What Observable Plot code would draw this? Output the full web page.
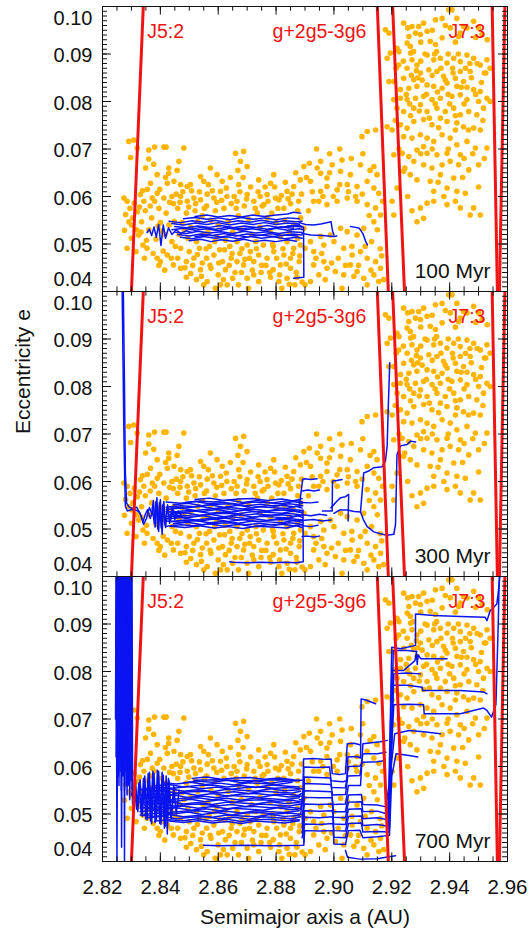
<!DOCTYPE html>
<html>
<head>
<meta charset="utf-8">
<script src="https://cdn.jsdelivr.net/npm/d3@7"></script>
<script src="https://cdn.jsdelivr.net/npm/@observablehq/plot@0.6"></script>
<style>
  html, body { margin: 0; padding: 0; background: #fff; }
</style>
</head>
<body>
<script>
// ---------- DATA ----------
const panels = ["100 Myr", "300 Myr", "700 Myr"];
const xTickLabels = [2.82, 2.84, 2.86, 2.88, 2.90, 2.92, 2.94, 2.96];
const yTickLabels = [0.04, 0.05, 0.06, 0.07, 0.08, 0.09, 0.10];

// family members (a [AU], e), the same in every panel
const familyMain = [
[2.8274,0.0597],[2.8285,0.0590],[2.8280,0.0562],[2.8291,0.0547],[2.8276,0.0529],[2.8285,0.0491],[2.8291,0.0716],[2.8308,0.0719],[2.8297,0.0682],[2.8320,0.0702],[2.8310,0.0586],[2.8331,0.0604],[2.8343,0.0590],[2.8320,0.0568],[2.8335,0.0547],[2.8300,0.0512],[2.8325,0.0519],[2.8340,0.0498],[2.8316,0.0484],[2.8345,0.0470],[2.8300,0.0540],[2.8333,0.0525],
[2.8360,0.0698],[2.8360,0.0679],[2.8377,0.0668],[2.8380,0.0704],[2.8412,0.0704],[2.8420,0.0704],[2.8429,0.0660],[2.8429,0.0649],[2.8349,0.0660],[2.8389,0.0646],[2.8424,0.0628],[2.8355,0.0615],[2.8372,0.0597],[2.8389,0.0607],[2.8412,0.0597],[2.8440,0.0600],[2.8365,0.0580],[2.8395,0.0575],[2.8420,0.0565],[2.8445,0.0585],[2.8370,0.0555],[2.8400,0.0545],[2.8430,0.0540],[2.8360,0.0530],[2.8385,0.0510],[2.8415,0.0520],[2.8440,0.0505],[2.8354,0.0491],[2.8375,0.0480],[2.8389,0.0470],[2.8400,0.0463],[2.8424,0.0477],[2.8445,0.0456],[2.8415,0.0445],[2.8395,0.0455],
[2.8481,0.0702],[2.8464,0.0674],[2.8447,0.0632],[2.8470,0.0625],[2.8493,0.0621],[2.8504,0.0625],[2.8539,0.0642],[2.8550,0.0632],[2.8455,0.0605],[2.8470,0.0600],[2.8493,0.0590],[2.8516,0.0597],[2.8539,0.0593],[2.8460,0.0575],[2.8490,0.0565],[2.8520,0.0570],[2.8545,0.0560],[2.8475,0.0545],[2.8505,0.0535],[2.8530,0.0548],[2.8465,0.0520],[2.8495,0.0512],[2.8525,0.0505],[2.8548,0.0520],[2.8470,0.0491],[2.8500,0.0484],[2.8535,0.0491],[2.8460,0.0470],[2.8490,0.0463],[2.8516,0.0470],[2.8545,0.0460],[2.8470,0.0449],[2.8505,0.0438],[2.8539,0.0446],[2.8525,0.0425],[2.8490,0.0430],[2.8550,0.0414],
[2.8573,0.0660],[2.8596,0.0646],[2.8614,0.0632],[2.8562,0.0605],[2.8585,0.0597],[2.8608,0.0611],[2.8630,0.0600],[2.8560,0.0580],[2.8590,0.0570],[2.8620,0.0575],[2.8645,0.0585],[2.8575,0.0550],[2.8600,0.0540],[2.8635,0.0548],[2.8565,0.0525],[2.8595,0.0515],[2.8625,0.0508],[2.8650,0.0525],[2.8570,0.0495],[2.8605,0.0488],[2.8640,0.0495],[2.8560,0.0470],[2.8585,0.0477],[2.8615,0.0463],[2.8645,0.0470],[2.8575,0.0449],[2.8600,0.0435],[2.8625,0.0446],[2.8650,0.0428],[2.8562,0.0421],[2.8608,0.0414],[2.8631,0.0414],[2.8590,0.0407],
[2.8660,0.0691],[2.8688,0.0695],[2.8677,0.0674],[2.8700,0.0663],[2.8671,0.0625],[2.8700,0.0604],[2.8740,0.0635],[2.8665,0.0590],[2.8690,0.0580],[2.8723,0.0590],[2.8745,0.0600],[2.8670,0.0560],[2.8705,0.0552],[2.8735,0.0565],[2.8680,0.0530],[2.8715,0.0520],[2.8745,0.0535],[2.8665,0.0505],[2.8700,0.0498],[2.8730,0.0505],[2.8675,0.0480],[2.8711,0.0484],[2.8740,0.0477],[2.8665,0.0463],[2.8688,0.0456],[2.8723,0.0463],[2.8750,0.0455],[2.8680,0.0440],[2.8700,0.0428],[2.8723,0.0435],[2.8740,0.0421],[2.8670,0.0414],[2.8705,0.0407],
[2.8769,0.0604],[2.8781,0.0628],[2.8792,0.0646],[2.8758,0.0583],[2.8798,0.0597],[2.8810,0.0593],[2.8838,0.0611],[2.8861,0.0621],[2.8884,0.0635],[2.8827,0.0575],[2.8850,0.0585],[2.8875,0.0570],[2.8770,0.0555],[2.8800,0.0545],[2.8830,0.0550],[2.8860,0.0540],[2.8885,0.0555],[2.8780,0.0525],[2.8815,0.0515],[2.8845,0.0525],[2.8875,0.0512],[2.8790,0.0495],[2.8838,0.0505],[2.8861,0.0491],[2.8884,0.0498],[2.8769,0.0470],[2.8792,0.0484],[2.8827,0.0477],[2.8850,0.0470],[2.8880,0.0463],[2.8790,0.0446],[2.8815,0.0456],[2.8850,0.0449],[2.8870,0.0440],[2.8781,0.0430],[2.8810,0.0421],[2.8838,0.0428],[2.8865,0.0414],[2.8890,0.0420],[2.8820,0.0407],
[2.8896,0.0663],[2.8954,0.0674],[2.8994,0.0667],[2.9028,0.0677],[2.9057,0.0646],[2.9092,0.0667],[2.9115,0.0737],[2.9144,0.0740],[2.9097,0.0726],[2.9138,0.0663],[2.9149,0.0646],[2.8954,0.0649],[2.8976,0.0639],[2.9023,0.0653],[2.9011,0.0614],[2.9046,0.0625],[2.9080,0.0621],[2.9115,0.0632],[2.9138,0.0618],[2.9155,0.0607],[2.8954,0.0611],[2.8976,0.0621],[2.8919,0.0632],[2.8930,0.0590],[2.8948,0.0590],[2.8976,0.0583],[2.9011,0.0590],[2.9046,0.0597],[2.9080,0.0590],[2.9115,0.0583],[2.9144,0.0576],[2.9161,0.0561],[2.9138,0.0547],[2.9103,0.0533],[2.9080,0.0519],[2.9046,0.0526],[2.9023,0.0533],[2.8988,0.0519],[2.8954,0.0516],[2.8919,0.0505],[2.8896,0.0533],[2.8900,0.0491],[2.8930,0.0484],[2.8965,0.0498],[2.9000,0.0505],[2.9034,0.0491],[2.9063,0.0477],[2.9092,0.0484],[2.9115,0.0470],[2.9144,0.0463],[2.9161,0.0449],[2.9138,0.0435],[2.9103,0.0428],[2.9069,0.0432],[2.9034,0.0435],[2.9005,0.0442],[2.8976,0.0449],[2.8948,0.0435],[2.8919,0.0421],[2.8900,0.0414],[2.9057,0.0456],[2.9080,0.0442],[2.9115,0.0414],[2.9155,0.0421],[2.9172,0.0425],[2.9028,0.0407],[2.8965,0.0463],[2.8930,0.0456],[2.9130,0.0505],[2.9160,0.0490],
[2.8295,0.0575],[2.8305,0.0555],[2.8318,0.0530],[2.8328,0.0578],[2.8338,0.0612],[2.8348,0.0570],[2.8352,0.0508],[2.8366,0.0628],[2.8380,0.0590],[2.8392,0.0538],[2.8398,0.0615],[2.8405,0.0528],[2.8410,0.0485],[2.8418,0.0640],[2.8432,0.0588],[2.8438,0.0470],[2.8448,0.0548],[2.8452,0.0495],[2.8458,0.0655],[2.8468,0.0588],[2.8478,0.0610],[2.8482,0.0530],[2.8485,0.0450],[2.8498,0.0578],[2.8508,0.0612],[2.8512,0.0455],[2.8522,0.0585],[2.8528,0.0478],[2.8535,0.0610],[2.8542,0.0432],[2.8552,0.0575],[2.8558,0.0490],[2.8566,0.0625],[2.8572,0.0455],[2.8580,0.0612],[2.8588,0.0505],[2.8595,0.0588],[2.8602,0.0460],[2.8612,0.0592],[2.8618,0.0425],[2.8622,0.0488],[2.8628,0.0618],[2.8638,0.0455],[2.8642,0.0640],[2.8648,0.0480],[2.8655,0.0600],[2.8658,0.0440],[2.8662,0.0575],[2.8668,0.0655],[2.8675,0.0610],[2.8682,0.0490],[2.8686,0.0640],[2.8692,0.0468],[2.8698,0.0595],[2.8708,0.0470],[2.8712,0.0620],[2.8718,0.0445],[2.8728,0.0575],[2.8732,0.0490],[2.8738,0.0610],[2.8748,0.0440],[2.8752,0.0580],[2.8756,0.0498],[2.8762,0.0620],[2.8765,0.0455],[2.8772,0.0590],[2.8778,0.0440],[2.8785,0.0565],[2.8788,0.0500],[2.8795,0.0620],[2.8802,0.0470],[2.8806,0.0575],[2.8812,0.0435],[2.8818,0.0602],[2.8824,0.0490],[2.8832,0.0630],[2.8835,0.0458],[2.8842,0.0595],[2.8846,0.0415],[2.8855,0.0605],[2.8858,0.0480],[2.8868,0.0650],[2.8872,0.0430],[2.8878,0.0590],[2.8882,0.0475],[2.8888,0.0605],[2.8905,0.0640],[2.8912,0.0570],[2.8925,0.0610],[2.8938,0.0470],[2.8942,0.0660],[2.8958,0.0480],[2.8962,0.0600],[2.8970,0.0425],[2.8985,0.0650],[2.8992,0.0460],[2.8998,0.0600],[2.9015,0.0470],[2.9020,0.0625],[2.9040,0.0455],[2.9050,0.0610],[2.9062,0.0495],[2.9075,0.0600],[2.9085,0.0455],[2.9098,0.0605],[2.9108,0.0495],[2.9122,0.0560],[2.9128,0.0445],[2.9150,0.0530],[2.9165,0.0475],[2.9168,0.0590],[2.9125,0.0655],[2.9100,0.0690],[2.9060,0.0680],[2.9020,0.0700],[2.8985,0.0690],[2.8940,0.0700],[2.8915,0.0670]
];
const familyOuter = [
[2.9178,0.0951],[2.9190,0.0944],[2.9241,0.0965],[2.9270,0.0958],[2.9282,0.0944],[2.9293,0.0958],[2.9310,0.0965],[2.9299,0.0941],[2.9253,0.0923],[2.9259,0.0937],[2.9322,0.0948],[2.9351,0.0972],[2.9374,0.0975],[2.9397,0.0993],[2.9408,0.0993],[2.9425,0.0975],[2.9402,0.0955],[2.9437,0.0944],[2.9448,0.0958],[2.9483,0.0969],[2.9500,0.0955],[2.9512,0.0941],[2.9431,0.0937],[2.9374,0.0934],[2.9351,0.0920],[2.9333,0.0927],[2.9264,0.0916],[2.9218,0.0912],
[2.9184,0.0891],[2.9195,0.0902],[2.9224,0.0877],[2.9253,0.0870],[2.9270,0.0888],[2.9287,0.0877],[2.9322,0.0898],[2.9345,0.0888],[2.9368,0.0891],[2.9391,0.0881],[2.9414,0.0891],[2.9437,0.0884],[2.9460,0.0898],[2.9483,0.0891],[2.9506,0.0877],[2.9529,0.0888],[2.9540,0.0870],[2.9471,0.0863],[2.9437,0.0863],[2.9420,0.0849],[2.9379,0.0853],[2.9356,0.0863],[2.9328,0.0867],[2.9299,0.0860],[2.9276,0.0846],[2.9241,0.0849],[2.9207,0.0842],[2.9190,0.0842],
[2.9230,0.0825],[2.9259,0.0828],[2.9287,0.0832],[2.9322,0.0835],[2.9345,0.0832],[2.9374,0.0828],[2.9391,0.0839],[2.9425,0.0832],[2.9448,0.0842],[2.9483,0.0825],[2.9506,0.0821],[2.9529,0.0807],[2.9540,0.0800],[2.9500,0.0800],[2.9460,0.0804],[2.9437,0.0814],[2.9408,0.0811],[2.9368,0.0807],[2.9339,0.0804],[2.9310,0.0811],[2.9282,0.0807],[2.9253,0.0804],[2.9230,0.0807],[2.9207,0.0804],
[2.9218,0.0786],[2.9241,0.0779],[2.9276,0.0786],[2.9299,0.0793],[2.9322,0.0779],[2.9356,0.0786],[2.9385,0.0779],[2.9414,0.0786],[2.9437,0.0772],[2.9466,0.0779],[2.9494,0.0772],[2.9517,0.0786],[2.9506,0.0740],[2.9483,0.0744],[2.9448,0.0747],[2.9425,0.0755],[2.9391,0.0758],[2.9368,0.0765],[2.9339,0.0751],[2.9310,0.0762],[2.9276,0.0758],[2.9253,0.0744],[2.9230,0.0751],[2.9201,0.0740],[2.9184,0.0747],
[2.9241,0.0726],[2.9270,0.0723],[2.9299,0.0730],[2.9322,0.0723],[2.9345,0.0716],[2.9374,0.0730],[2.9402,0.0723],[2.9425,0.0709],[2.9460,0.0716],[2.9489,0.0702],[2.9529,0.0702],[2.9437,0.0688],[2.9391,0.0691],[2.9356,0.0688],[2.9322,0.0691],[2.9287,0.0698],[2.9259,0.0684],[2.9236,0.0691],[2.9207,0.0688],
[2.9276,0.0674],[2.9310,0.0667],[2.9339,0.0660],[2.9374,0.0667],[2.9402,0.0674],[2.9431,0.0667],[2.9466,0.0656],[2.9500,0.0667],[2.9368,0.0646],[2.9414,0.0639],[2.9333,0.0632],[2.9287,0.0635],[2.9264,0.0646],[2.9241,0.0653],[2.9345,0.0611],[2.9391,0.0618],[2.9425,0.0611],[2.9454,0.0607],[2.9483,0.0576],[2.9506,0.0561],[2.9471,0.0561],[2.9437,0.0576],[2.9391,0.0583],[2.9345,0.0590],[2.9322,0.0586],[2.9299,0.0576],[2.9287,0.0547],[2.9310,0.0554],[2.9218,0.0618],[2.9201,0.0590],[2.9207,0.0561],
[2.9265,0.0902],[2.9300,0.0885],[2.9355,0.0905],[2.9410,0.0870],[2.9470,0.0880],[2.9520,0.0860],[2.9290,0.0850],[2.9395,0.0815],[2.9460,0.0830],[2.9350,0.0795],[2.9265,0.0770],[2.9420,0.0740],[2.9310,0.0705],[2.9480,0.0690],[2.9380,0.0600],
[2.9215,0.0870],[2.9225,0.0905],[2.9240,0.0885],[2.9250,0.0815],[2.9262,0.0795],[2.9268,0.0855],[2.9275,0.0905],[2.9285,0.0865],[2.9295,0.0780],[2.9305,0.0845],[2.9315,0.0900],[2.9320,0.0815],[2.9330,0.0765],[2.9340,0.0855],[2.9348,0.0900],[2.9358,0.0820],[2.9362,0.0745],[2.9370,0.0870],[2.9385,0.0845],[2.9395,0.0900],[2.9400,0.0795],[2.9412,0.0860],[2.9420,0.0770],[2.9430,0.0900],[2.9440,0.0830],[2.9450,0.0795],[2.9455,0.0870],[2.9465,0.0740],[2.9475,0.0850],[2.9490,0.0815],[2.9495,0.0880],[2.9510,0.0840],[2.9515,0.0760],[2.9525,0.0860],[2.9530,0.0930],[2.9490,0.0935],[2.9460,0.0955],[2.9420,0.0925],[2.9385,0.0960],[2.9340,0.0950],[2.9300,0.0925],[2.9255,0.0955],[2.9212,0.0760],[2.9225,0.0700],[2.9245,0.0660],[2.9300,0.0690],[2.9340,0.0700],[2.9395,0.0700],[2.9450,0.0680],[2.9500,0.0620],[2.9445,0.0640],[2.9360,0.0630],[2.9255,0.0600],[2.9270,0.0570],[2.9420,0.0590],[2.9520,0.0680]
];

// resonance borders: a at e = 0.04 and a at e = 0.10
const borderAatLowE  = [2.8300, 2.9188, 2.9244, 2.9565, 2.9572];
const borderAatHighE = [2.8341, 2.9150, 2.9203, 2.9547, 2.9591];
const resonanceNames = ["J5:2", "g+2g5-3g6", "J7:3"];
const resonanceLabelA = [2.8418, 2.8950, 2.9460];

// blue orbital tracks (a, e) per panel
const tracks100 = [
[[2.8354,0.0524],[2.8362,0.0531],[2.8370,0.0518],[2.8378,0.0536],[2.8386,0.0514],[2.8394,0.0541],[2.8402,0.0497],[2.8410,0.0540],[2.8418,0.0512],[2.8428,0.0534],[2.8440,0.0520],[2.8455,0.0530],[2.8470,0.0522],[2.8490,0.0528],[2.8510,0.0524]],
[[2.8500,0.0507],[2.8540,0.0510],[2.8575,0.0505],[2.8610,0.0509],[2.8650,0.0506],[2.8690,0.0510],[2.8725,0.0505],[2.8760,0.0508],[2.8800,0.0505],[2.8840,0.0509],[2.8870,0.0506]],
[[2.8470,0.0514],[2.8510,0.0511],[2.8550,0.0516],[2.8590,0.0512],[2.8630,0.0515],[2.8670,0.0511],[2.8710,0.0516],[2.8750,0.0512],[2.8790,0.0515],[2.8830,0.0511],[2.8870,0.0514],[2.8890,0.0512]],
[[2.8460,0.0520],[2.8500,0.0517],[2.8540,0.0521],[2.8580,0.0518],[2.8620,0.0522],[2.8660,0.0517],[2.8700,0.0521],[2.8740,0.0518],[2.8780,0.0522],[2.8820,0.0518],[2.8860,0.0521],[2.8890,0.0519]],
[[2.8450,0.0525],[2.8490,0.0522],[2.8530,0.0527],[2.8570,0.0523],[2.8610,0.0526],[2.8650,0.0522],[2.8690,0.0527],[2.8730,0.0523],[2.8770,0.0526],[2.8810,0.0522],[2.8850,0.0526],[2.8890,0.0524]],
[[2.8440,0.0530],[2.8480,0.0533],[2.8520,0.0529],[2.8560,0.0532],[2.8600,0.0528],[2.8640,0.0533],[2.8680,0.0529],[2.8720,0.0532],[2.8760,0.0528],[2.8800,0.0533],[2.8840,0.0529],[2.8880,0.0532],[2.8895,0.0530]],
[[2.8450,0.0537],[2.8490,0.0534],[2.8530,0.0538],[2.8570,0.0535],[2.8610,0.0539],[2.8650,0.0534],[2.8690,0.0538],[2.8730,0.0535],[2.8770,0.0539],[2.8810,0.0535],[2.8850,0.0538],[2.8890,0.0536]],
[[2.8440,0.0543],[2.8480,0.0540],[2.8520,0.0544],[2.8560,0.0541],[2.8600,0.0545],[2.8640,0.0540],[2.8680,0.0544],[2.8720,0.0541],[2.8760,0.0545],[2.8800,0.0541],[2.8840,0.0544],[2.8880,0.0542]],
[[2.8430,0.0548],[2.8470,0.0545],[2.8510,0.0549],[2.8550,0.0546],[2.8590,0.0550],[2.8630,0.0545],[2.8670,0.0549],[2.8710,0.0546],[2.8750,0.0550],[2.8790,0.0546],[2.8830,0.0549],[2.8870,0.0547],[2.8890,0.0548]],
[[2.8480,0.0553],[2.8520,0.0556],[2.8560,0.0552],[2.8600,0.0555],[2.8640,0.0551],[2.8680,0.0556],[2.8720,0.0552],[2.8760,0.0555],[2.8800,0.0551],[2.8840,0.0555],[2.8880,0.0553]],
[[2.8520,0.0558],[2.8560,0.0561],[2.8600,0.0557],[2.8640,0.0560],[2.8680,0.0557],[2.8720,0.0561],[2.8760,0.0558],[2.8800,0.0561],[2.8840,0.0563],[2.8860,0.0567],[2.8885,0.0565]],
[[2.8500,0.0531],[2.8545,0.0535],[2.8590,0.0531],[2.8635,0.0536],[2.8680,0.0532],[2.8725,0.0535],[2.8770,0.0531],[2.8815,0.0536],[2.8860,0.0533]],
[[2.8520,0.0516],[2.8565,0.0519],[2.8610,0.0515],[2.8655,0.0519],[2.8700,0.0515],[2.8745,0.0519],[2.8790,0.0516],[2.8835,0.0519],[2.8875,0.0517]],
[[2.8840,0.0538],[2.8880,0.0540],[2.8895,0.0535],[2.8896,0.0430],[2.8861,0.0428]],
[[2.8880,0.0545],[2.8902,0.0541],[2.8930,0.0540],[2.8955,0.0542],[2.8990,0.0547],[2.8995,0.0528],[2.9000,0.0519]],
[[2.8890,0.0522],[2.8920,0.0519],[2.8960,0.0518],[2.9000,0.0516],[2.9010,0.0517]],
[[2.9057,0.0537],[2.9075,0.0535],[2.9088,0.0533],[2.9100,0.0522],[2.9110,0.0505],[2.9116,0.0498]]
];
const tracks300 = [
[[2.8268,0.1000],[2.8271,0.0850],[2.8274,0.0700],[2.8277,0.0600],[2.8279,0.0548],[2.8286,0.0538],[2.8300,0.0541],[2.8315,0.0540],[2.8326,0.0536],[2.8334,0.0527],[2.8340,0.0515],[2.8348,0.0531],[2.8356,0.0541],[2.8365,0.0522],[2.8375,0.0540]],
[[2.8272,0.1000],[2.8276,0.0800],[2.8279,0.0620],[2.8283,0.0555],[2.8292,0.0546],[2.8305,0.0543],[2.8318,0.0546],[2.8330,0.0533],[2.8342,0.0510],[2.8352,0.0522],[2.8362,0.0545],[2.8372,0.0530]],
[[2.8370,0.0530],[2.8376,0.0560],[2.8382,0.0504],[2.8388,0.0566],[2.8394,0.0495],[2.8400,0.0562],[2.8406,0.0489],[2.8412,0.0558],[2.8418,0.0503],[2.8425,0.0551],[2.8432,0.0512],[2.8440,0.0545],[2.8450,0.0520],[2.8462,0.0538],[2.8475,0.0525]],
[[2.8372,0.0545],[2.8379,0.0512],[2.8385,0.0558],[2.8391,0.0500],[2.8397,0.0556],[2.8403,0.0502],[2.8409,0.0552],[2.8416,0.0508],[2.8424,0.0545],[2.8434,0.0517],[2.8445,0.0540],[2.8458,0.0524]],
[[2.8435,0.0506],[2.8485,0.0503],[2.8535,0.0507],[2.8585,0.0502],[2.8635,0.0505],[2.8685,0.0501],[2.8735,0.0506],[2.8785,0.0504],[2.8835,0.0502],[2.8870,0.0507],[2.8890,0.0503]],
[[2.8420,0.0506],[2.8470,0.0509],[2.8520,0.0507],[2.8570,0.0511],[2.8620,0.0506],[2.8670,0.0510],[2.8720,0.0505],[2.8770,0.0509],[2.8820,0.0510],[2.8860,0.0507],[2.8890,0.0509]],
[[2.8445,0.0511],[2.8495,0.0514],[2.8545,0.0509],[2.8595,0.0512],[2.8645,0.0513],[2.8695,0.0509],[2.8745,0.0512],[2.8795,0.0508],[2.8845,0.0513],[2.8875,0.0511],[2.8892,0.0509]],
[[2.8420,0.0517],[2.8470,0.0514],[2.8520,0.0518],[2.8570,0.0513],[2.8620,0.0516],[2.8670,0.0512],[2.8720,0.0517],[2.8770,0.0515],[2.8820,0.0513],[2.8860,0.0518],[2.8890,0.0514]],
[[2.8435,0.0516],[2.8485,0.0519],[2.8535,0.0517],[2.8585,0.0521],[2.8635,0.0516],[2.8685,0.0520],[2.8735,0.0515],[2.8785,0.0519],[2.8835,0.0520],[2.8870,0.0517],[2.8890,0.0519]],
[[2.8420,0.0521],[2.8470,0.0524],[2.8520,0.0519],[2.8570,0.0522],[2.8620,0.0523],[2.8670,0.0519],[2.8720,0.0522],[2.8770,0.0518],[2.8820,0.0523],[2.8860,0.0521],[2.8890,0.0519]],
[[2.8445,0.0527],[2.8495,0.0524],[2.8545,0.0528],[2.8595,0.0523],[2.8645,0.0526],[2.8695,0.0522],[2.8745,0.0527],[2.8795,0.0525],[2.8845,0.0523],[2.8875,0.0528],[2.8892,0.0524]],
[[2.8420,0.0526],[2.8470,0.0529],[2.8520,0.0527],[2.8570,0.0531],[2.8620,0.0526],[2.8670,0.0530],[2.8720,0.0525],[2.8770,0.0529],[2.8820,0.0530],[2.8860,0.0527],[2.8890,0.0529]],
[[2.8435,0.0531],[2.8485,0.0534],[2.8535,0.0529],[2.8585,0.0532],[2.8635,0.0533],[2.8685,0.0529],[2.8735,0.0532],[2.8785,0.0528],[2.8835,0.0533],[2.8870,0.0531],[2.8890,0.0529]],
[[2.8420,0.0537],[2.8470,0.0534],[2.8520,0.0538],[2.8570,0.0533],[2.8620,0.0536],[2.8670,0.0532],[2.8720,0.0537],[2.8770,0.0535],[2.8820,0.0533],[2.8860,0.0538],[2.8890,0.0534]],
[[2.8445,0.0536],[2.8495,0.0539],[2.8545,0.0537],[2.8595,0.0541],[2.8645,0.0536],[2.8695,0.0540],[2.8745,0.0535],[2.8795,0.0539],[2.8845,0.0540],[2.8875,0.0537],[2.8892,0.0539]],
[[2.8420,0.0541],[2.8470,0.0544],[2.8520,0.0539],[2.8570,0.0542],[2.8620,0.0543],[2.8670,0.0539],[2.8720,0.0542],[2.8770,0.0538],[2.8820,0.0543],[2.8860,0.0541],[2.8890,0.0539]],
[[2.8435,0.0547],[2.8485,0.0544],[2.8535,0.0548],[2.8585,0.0543],[2.8635,0.0546],[2.8685,0.0542],[2.8735,0.0547],[2.8785,0.0545],[2.8835,0.0543],[2.8870,0.0548],[2.8890,0.0544]],
[[2.8420,0.0546],[2.8470,0.0549],[2.8520,0.0547],[2.8570,0.0551],[2.8620,0.0546],[2.8670,0.0550],[2.8720,0.0545],[2.8770,0.0549],[2.8820,0.0550],[2.8860,0.0547],[2.8890,0.0549]],
[[2.8445,0.0551],[2.8495,0.0554],[2.8545,0.0549],[2.8595,0.0552],[2.8645,0.0553],[2.8695,0.0549],[2.8745,0.0552],[2.8795,0.0548],[2.8845,0.0553],[2.8875,0.0551],[2.8892,0.0549]],
[[2.8420,0.0557],[2.8470,0.0554],[2.8520,0.0558],[2.8570,0.0553],[2.8620,0.0556],[2.8670,0.0552],[2.8720,0.0557],[2.8770,0.0555],[2.8820,0.0553],[2.8860,0.0558],[2.8890,0.0554]],
[[2.8485,0.0556],[2.8535,0.0559],[2.8585,0.0557],[2.8635,0.0561],[2.8685,0.0556],[2.8735,0.0560],[2.8785,0.0555],[2.8835,0.0559],[2.8870,0.0560],[2.8890,0.0557]],
[[2.8520,0.0562],[2.8570,0.0565],[2.8620,0.0560],[2.8670,0.0563],[2.8720,0.0564],[2.8770,0.0560],[2.8820,0.0563],[2.8860,0.0559],[2.8890,0.0564]],
[[2.8880,0.0545],[2.8892,0.0605],[2.8900,0.0606],[2.8920,0.0604],[2.8942,0.0606]],
[[2.8893,0.0540],[2.8894,0.0431],[2.8870,0.0429],[2.8830,0.0430],[2.8790,0.0429],[2.8750,0.0430],[2.8700,0.0429],[2.8650,0.0430],[2.8640,0.0431]],
[[2.8890,0.0580],[2.8910,0.0582],[2.8930,0.0580],[2.8950,0.0582]],
[[2.8890,0.0484],[2.8910,0.0485],[2.8930,0.0483],[2.8950,0.0485]],
[[2.8890,0.0556],[2.8920,0.0555],[2.8945,0.0557]],
[[2.8890,0.0530],[2.8920,0.0528],[2.8950,0.0531],[2.8975,0.0529]],
[[2.8890,0.0507],[2.8920,0.0505],[2.8945,0.0508]],
[[2.8890,0.0518],[2.8930,0.0520],[2.8960,0.0517],[2.8990,0.0519]],
[[2.8960,0.0538],[2.8994,0.0538],[2.8995,0.0601],[2.9010,0.0602],[2.9028,0.0604]],
[[2.8990,0.0545],[2.9011,0.0559],[2.9023,0.0566],[2.9040,0.0568],[2.9051,0.0573],[2.9049,0.0517]],
[[2.9000,0.0533],[2.9020,0.0540],[2.9046,0.0540],[2.9070,0.0537],[2.9092,0.0536],[2.9103,0.0518],[2.9115,0.0505],[2.9138,0.0494],[2.9160,0.0490],[2.9184,0.0487],[2.9207,0.0489]],
[[2.9092,0.0537],[2.9103,0.0618],[2.9120,0.0622],[2.9138,0.0629],[2.9166,0.0631],[2.9178,0.0643],[2.9184,0.0675],[2.9188,0.0760],[2.9193,0.0850]],
[[2.9207,0.0489],[2.9213,0.0510],[2.9218,0.0657],[2.9230,0.0675],[2.9253,0.0678],[2.9265,0.0685],[2.9282,0.0683]]
];
const tracks700 = [
[[2.8245,0.0700],[2.8247,0.1010],[2.8250,0.0400],[2.8254,0.1010],[2.8257,0.0560],[2.8260,0.1010],[2.8264,0.0600],[2.8267,0.1010],[2.8270,0.0580],[2.8273,0.1010],[2.8276,0.0400],[2.8279,0.1010],[2.8283,0.0560],[2.8287,0.1010],[2.8291,0.0620],[2.8295,0.1010],[2.8299,0.0570],[2.8302,0.1010],[2.8304,0.0540]],
[[2.8248,0.1010],[2.8252,0.0650],[2.8255,0.1010],[2.8259,0.0620],[2.8262,0.1010],[2.8266,0.0430],[2.8269,0.1010],[2.8274,0.0620],[2.8277,0.1010],[2.8281,0.0590],[2.8285,0.1010],[2.8289,0.0560],[2.8293,0.1010],[2.8297,0.0600],[2.8300,0.1010],[2.8303,0.0550]],
[[2.8246,0.0850],[2.8249,0.1010],[2.8251,0.0600],[2.8253,0.1010],[2.8256,0.0640],[2.8258,0.1010],[2.8261,0.0590],[2.8263,0.1010],[2.8265,0.0630],[2.8268,0.1010],[2.8271,0.0600],[2.8275,0.1010],[2.8278,0.0640],[2.8282,0.1010],[2.8286,0.0610],[2.8290,0.1010],[2.8294,0.0580],[2.8298,0.1010],[2.8301,0.0600]],
[[2.8247,0.0620],[2.8251,0.1010],[2.8256,0.0580],[2.8261,0.1010],[2.8265,0.0550],[2.8271,0.1010],[2.8276,0.0550],[2.8281,0.1010],[2.8285,0.0540],[2.8290,0.0950],[2.8294,0.0530],[2.8299,0.0700],[2.8304,0.0520],[2.8310,0.0560]],
[[2.8300,0.0540],[2.8310,0.0560],[2.8318,0.0510],[2.8326,0.0565],[2.8334,0.0500],[2.8342,0.0575],[2.8350,0.0490],[2.8358,0.0585],[2.8366,0.0485],[2.8374,0.0590],[2.8382,0.0482],[2.8390,0.0592],[2.8398,0.0480],[2.8406,0.0588],[2.8414,0.0470],[2.8420,0.0580],[2.8424,0.0458],[2.8430,0.0570],[2.8438,0.0490],[2.8446,0.0560],[2.8455,0.0500],[2.8465,0.0550]],
[[2.8305,0.0525],[2.8314,0.0570],[2.8322,0.0505],[2.8330,0.0572],[2.8338,0.0495],[2.8346,0.0580],[2.8354,0.0488],[2.8362,0.0588],[2.8370,0.0480],[2.8378,0.0586],[2.8386,0.0486],[2.8394,0.0590],[2.8402,0.0478],[2.8410,0.0582],[2.8418,0.0475],[2.8428,0.0575],[2.8436,0.0495],[2.8450,0.0555]],
[[2.8430,0.0485],[2.8480,0.0482],[2.8530,0.0486],[2.8580,0.0481],[2.8630,0.0484],[2.8680,0.0480],[2.8730,0.0485],[2.8780,0.0483],[2.8830,0.0481],[2.8880,0.0486]],
[[2.8380,0.0485],[2.8430,0.0488],[2.8480,0.0486],[2.8530,0.0490],[2.8580,0.0485],[2.8630,0.0489],[2.8680,0.0484],[2.8730,0.0488],[2.8780,0.0489],[2.8830,0.0486],[2.8880,0.0488]],
[[2.8355,0.0492],[2.8405,0.0495],[2.8455,0.0490],[2.8505,0.0493],[2.8555,0.0494],[2.8605,0.0490],[2.8655,0.0493],[2.8705,0.0489],[2.8755,0.0494],[2.8805,0.0492],[2.8855,0.0490],[2.8885,0.0494]],
[[2.8330,0.0498],[2.8380,0.0495],[2.8430,0.0499],[2.8480,0.0494],[2.8530,0.0497],[2.8580,0.0493],[2.8630,0.0498],[2.8680,0.0496],[2.8730,0.0494],[2.8780,0.0499],[2.8830,0.0495],[2.8880,0.0497]],
[[2.8345,0.0499],[2.8395,0.0502],[2.8445,0.0500],[2.8495,0.0504],[2.8545,0.0499],[2.8595,0.0503],[2.8645,0.0498],[2.8695,0.0502],[2.8745,0.0503],[2.8795,0.0500],[2.8845,0.0502],[2.8888,0.0499]],
[[2.8330,0.0505],[2.8380,0.0508],[2.8430,0.0503],[2.8480,0.0506],[2.8530,0.0507],[2.8580,0.0503],[2.8630,0.0506],[2.8680,0.0502],[2.8730,0.0507],[2.8780,0.0505],[2.8830,0.0503],[2.8880,0.0507]],
[[2.8355,0.0512],[2.8405,0.0509],[2.8455,0.0513],[2.8505,0.0508],[2.8555,0.0511],[2.8605,0.0507],[2.8655,0.0512],[2.8705,0.0510],[2.8755,0.0508],[2.8805,0.0513],[2.8855,0.0509],[2.8885,0.0511]],
[[2.8330,0.0512],[2.8380,0.0515],[2.8430,0.0513],[2.8480,0.0517],[2.8530,0.0512],[2.8580,0.0516],[2.8630,0.0511],[2.8680,0.0515],[2.8730,0.0516],[2.8780,0.0513],[2.8830,0.0515],[2.8880,0.0512]],
[[2.8345,0.0519],[2.8395,0.0522],[2.8445,0.0517],[2.8495,0.0520],[2.8545,0.0521],[2.8595,0.0517],[2.8645,0.0520],[2.8695,0.0516],[2.8745,0.0521],[2.8795,0.0519],[2.8845,0.0517],[2.8888,0.0521]],
[[2.8330,0.0525],[2.8380,0.0522],[2.8430,0.0526],[2.8480,0.0521],[2.8530,0.0524],[2.8580,0.0520],[2.8630,0.0525],[2.8680,0.0523],[2.8730,0.0521],[2.8780,0.0526],[2.8830,0.0522],[2.8880,0.0524]],
[[2.8355,0.0526],[2.8405,0.0529],[2.8455,0.0527],[2.8505,0.0531],[2.8555,0.0526],[2.8605,0.0530],[2.8655,0.0525],[2.8705,0.0529],[2.8755,0.0530],[2.8805,0.0527],[2.8855,0.0529],[2.8885,0.0526]],
[[2.8330,0.0532],[2.8380,0.0535],[2.8430,0.0530],[2.8480,0.0533],[2.8530,0.0534],[2.8580,0.0530],[2.8630,0.0533],[2.8680,0.0529],[2.8730,0.0534],[2.8780,0.0532],[2.8830,0.0530],[2.8880,0.0534]],
[[2.8345,0.0539],[2.8395,0.0536],[2.8445,0.0540],[2.8495,0.0535],[2.8545,0.0538],[2.8595,0.0534],[2.8645,0.0539],[2.8695,0.0537],[2.8745,0.0535],[2.8795,0.0540],[2.8845,0.0536],[2.8888,0.0538]],
[[2.8330,0.0539],[2.8380,0.0542],[2.8430,0.0540],[2.8480,0.0544],[2.8530,0.0539],[2.8580,0.0543],[2.8630,0.0538],[2.8680,0.0542],[2.8730,0.0543],[2.8780,0.0540],[2.8830,0.0542],[2.8880,0.0539]],
[[2.8355,0.0546],[2.8405,0.0549],[2.8455,0.0544],[2.8505,0.0547],[2.8555,0.0548],[2.8605,0.0544],[2.8655,0.0547],[2.8705,0.0543],[2.8755,0.0548],[2.8805,0.0546],[2.8855,0.0544],[2.8885,0.0548]],
[[2.8330,0.0552],[2.8380,0.0549],[2.8430,0.0553],[2.8480,0.0548],[2.8530,0.0551],[2.8580,0.0547],[2.8630,0.0552],[2.8680,0.0550],[2.8730,0.0548],[2.8780,0.0553],[2.8830,0.0549],[2.8880,0.0551]],
[[2.8345,0.0553],[2.8395,0.0556],[2.8445,0.0554],[2.8495,0.0558],[2.8545,0.0553],[2.8595,0.0557],[2.8645,0.0552],[2.8695,0.0556],[2.8745,0.0557],[2.8795,0.0554],[2.8845,0.0556],[2.8888,0.0553]],
[[2.8380,0.0559],[2.8430,0.0562],[2.8480,0.0557],[2.8530,0.0560],[2.8580,0.0561],[2.8630,0.0557],[2.8680,0.0560],[2.8730,0.0556],[2.8780,0.0561],[2.8830,0.0559],[2.8880,0.0557]],
[[2.8405,0.0566],[2.8455,0.0563],[2.8505,0.0567],[2.8555,0.0562],[2.8605,0.0565],[2.8655,0.0561],[2.8705,0.0566],[2.8755,0.0564],[2.8805,0.0562],[2.8855,0.0567]],
[[2.8480,0.0566],[2.8530,0.0569],[2.8580,0.0567],[2.8630,0.0571],[2.8680,0.0566],[2.8730,0.0570],[2.8780,0.0565],[2.8830,0.0569],[2.8880,0.0570]],
[[2.8510,0.0575],[2.8560,0.0578],[2.8610,0.0573],[2.8660,0.0576],[2.8710,0.0577],[2.8760,0.0573],[2.8810,0.0576],[2.8860,0.0572]],
[[2.8516,0.0571],[2.8600,0.0572],[2.8700,0.0570],[2.8800,0.0572],[2.8890,0.0571]],
[[2.8550,0.0434],[2.8600,0.0433],[2.8700,0.0434],[2.8800,0.0433],[2.8896,0.0434],[2.8897,0.0500]],
[[2.8880,0.0540],[2.8893,0.0545],[2.8895,0.0616],[2.8930,0.0617],[2.8970,0.0615],[2.8990,0.0616],[2.8994,0.0585],[2.9020,0.0583],[2.9040,0.0585],[2.9046,0.0648],[2.9070,0.0649],[2.9090,0.0646]],
[[2.8880,0.0530],[2.8894,0.0530],[2.8896,0.0599],[2.8940,0.0598],[2.8985,0.0599],[2.8990,0.0570],[2.9030,0.0568],[2.9045,0.0570],[2.9048,0.0620],[2.9080,0.0621],[2.9092,0.0618],[2.9094,0.0742],[2.9110,0.0740],[2.9144,0.0732]],
[[2.8880,0.0520],[2.8896,0.0522],[2.8898,0.0578],[2.8940,0.0577],[2.8988,0.0576],[2.8992,0.0556],[2.9040,0.0555],[2.9050,0.0600],[2.9090,0.0601],[2.9100,0.0609],[2.9150,0.0610],[2.9172,0.0612]],
[[2.8885,0.0510],[2.8897,0.0564],[2.8950,0.0563],[2.8990,0.0562],[2.8995,0.0540],[2.9040,0.0541],[2.9048,0.0580],[2.9090,0.0581],[2.9100,0.0627],[2.9150,0.0627],[2.9180,0.0630]],
[[2.8885,0.0500],[2.8897,0.0549],[2.8950,0.0548],[2.8992,0.0547],[2.8996,0.0520],[2.9040,0.0521],[2.9050,0.0560],[2.9092,0.0560],[2.9100,0.0648],[2.9160,0.0652],[2.9184,0.0655]],
[[2.8890,0.0490],[2.8897,0.0535],[2.8950,0.0534],[2.8994,0.0534],[2.8998,0.0505],[2.9040,0.0505],[2.9050,0.0540],[2.9095,0.0541],[2.9100,0.0520],[2.9150,0.0519],[2.9180,0.0515],[2.9190,0.0560],[2.9195,0.0700],[2.9200,0.0851],[2.9230,0.0848],[2.9282,0.0855],[2.9282,0.0921],[2.9345,0.0918],[2.9437,0.0916],[2.9523,0.0914],[2.9529,0.0907],[2.9540,0.0928],[2.9563,0.0942],[2.9569,0.0971],[2.9575,0.1010]],
[[2.8890,0.0480],[2.8898,0.0521],[2.8950,0.0520],[2.8995,0.0521],[2.8998,0.0493],[2.9040,0.0492],[2.9050,0.0525],[2.9095,0.0526],[2.9100,0.0505],[2.9150,0.0506],[2.9185,0.0500],[2.9192,0.0560],[2.9198,0.0760],[2.9201,0.0802],[2.9241,0.0802],[2.9280,0.0823],[2.9285,0.0840],[2.9288,0.0815],[2.9291,0.0835],[2.9300,0.0827],[2.9391,0.0827]],
[[2.8890,0.0470],[2.8898,0.0507],[2.8950,0.0506],[2.8996,0.0507],[2.8999,0.0479],[2.9040,0.0478],[2.9050,0.0510],[2.9095,0.0511],[2.9100,0.0490],[2.9150,0.0492],[2.9186,0.0488],[2.9194,0.0600],[2.9205,0.0771],[2.9253,0.0771],[2.9305,0.0767],[2.9307,0.0760],[2.9437,0.0760],[2.9517,0.0757],[2.9529,0.0753]],
[[2.8890,0.0460],[2.8898,0.0493],[2.8950,0.0492],[2.8996,0.0494],[2.9000,0.0465],[2.9040,0.0464],[2.9050,0.0495],[2.9095,0.0496],[2.9100,0.0476],[2.9150,0.0478],[2.9188,0.0474],[2.9196,0.0600],[2.9207,0.0730],[2.9260,0.0731],[2.9310,0.0730],[2.9312,0.0711],[2.9437,0.0711],[2.9517,0.0723],[2.9529,0.0718],[2.9545,0.0704],[2.9560,0.0730],[2.9568,0.0900],[2.9572,0.1010]],
[[2.8890,0.0450],[2.8899,0.0479],[2.8950,0.0478],[2.8997,0.0480],[2.9000,0.0451],[2.9040,0.0450],[2.9050,0.0480],[2.9095,0.0481],[2.9100,0.0462],[2.9150,0.0463],[2.9190,0.0462],[2.9198,0.0600],[2.9210,0.0669],[2.9260,0.0676],[2.9310,0.0673],[2.9368,0.0669]],
[[2.8896,0.0440],[2.8899,0.0465],[2.8950,0.0464],[2.8998,0.0465],[2.9000,0.0437],[2.9040,0.0436],[2.9050,0.0465],[2.9090,0.0466],[2.9100,0.0450],[2.9150,0.0452],[2.9192,0.0455],[2.9200,0.0580],[2.9215,0.0627],[2.9260,0.0623],[2.9290,0.0620]],
[[2.9040,0.0423],[2.9047,0.0409],[2.9090,0.0405],[2.9150,0.0406],[2.9190,0.0410],[2.9213,0.0412]],
[[2.9190,0.0480],[2.9200,0.0650],[2.9207,0.0795],[2.9250,0.0797],[2.9299,0.0795]],
[[2.9192,0.0470],[2.9200,0.0690],[2.9205,0.0844],[2.9253,0.0844],[2.9287,0.0842]]
];

// ---------- TABLES FOR PLOT ----------
const asteroids = familyMain.concat(familyOuter).map(([a, e]) => ({a, e}));
const trackRows = [];
[[panels[0], tracks100], [panels[1], tracks300], [panels[2], tracks700]].forEach(([p, ts]) => {
  ts.forEach((t, i) => t.forEach(([a, e]) => trackRows.push({panel: p, id: p + "-" + i, a, e})));
});
const borders = borderAatLowE.map((a0, i) => ({a0, a1: borderAatHighE[i]}));
const resLabels = resonanceNames.map((name, i) => ({name, a: resonanceLabelA[i]}));

// ---------- LAYOUT ----------
const W = 531, H = 939, mL = 102, mR = 24, mT = 5, mB = 78;
const panelH = (H - mT - mB) / panels.length;
const panelW = W - mL - mR;
const font = "'Liberation Sans', Arial, Helvetica, sans-serif";
const red = "#f01414";
const ink = "#111";

const xMinor = d3.range(2.82, 2.9601, 0.005).map(v => +v.toFixed(3));
const xMajor = xTickLabels;
const yMinor = d3.range(0.04, 0.10001, 0.001).map(v => +v.toFixed(3));
const yMajor = yTickLabels;

const chart = Plot.plot({
  width: W, height: H,
  marginLeft: mL, marginRight: mR, marginTop: mT, marginBottom: mB,
  x: {domain: [2.82, 2.96], axis: null},
  y: {domain: [0.04, 0.10], axis: null},
  fy: {domain: panels, padding: 0, axis: null},
  style: {fontFamily: font, background: "#fff", overflow: "visible"},
  marks: [
    Plot.dot(asteroids, {x: "a", y: "e", r: 2.8, fill: "#ffb400", stroke: null, clip: true}),
    Plot.line(trackRows, {x: "a", y: "e", z: "id", fy: "panel", stroke: "#0a14f0", strokeWidth: 1.5, clip: true}),
    Plot.link(borders, {x1: "a0", y1: () => 0.04, x2: "a1", y2: () => 0.10, stroke: red, strokeWidth: 3, clip: true}),
    Plot.text(resLabels, {x: "a", frameAnchor: "top", dy: 18, text: "name", fill: red, fontSize: 19.5}),
    Plot.text(panels, {fy: d => d, text: d => d, frameAnchor: "bottom-right", dx: -17, dy: -14, textAnchor: "end", fontSize: 21, fill: ink}),
    Plot.tickX(xMinor, {x: d => d, insetTop: panelH - 5, stroke: ink}),
    Plot.tickX(xMinor, {x: d => d, insetBottom: panelH - 5, stroke: ink}),
    Plot.tickX(xMajor, {x: d => d, insetTop: panelH - 9, stroke: ink}),
    Plot.tickX(xMajor, {x: d => d, insetBottom: panelH - 9, stroke: ink}),
    Plot.tickY(yMinor, {y: d => d, insetRight: panelW - 5, stroke: ink}),
    Plot.tickY(yMinor, {y: d => d, insetLeft: panelW - 5, stroke: ink}),
    Plot.tickY(yMajor, {y: d => d, insetRight: panelW - 9, stroke: ink}),
    Plot.tickY(yMajor, {y: d => d, insetLeft: panelW - 9, stroke: ink}),
    Plot.frame({stroke: ink, strokeWidth: 1}),
    Plot.text(yTickLabels.slice(1, -1), {y: d => d, frameAnchor: "left", dx: -10, dy: 2, textAnchor: "end", text: d => d.toFixed(2), fontSize: 20, fill: ink}),
    Plot.text(yTickLabels.slice(-1), {y: d => d, frameAnchor: "left", dx: -10, dy: 12, textAnchor: "end", text: d => d.toFixed(2), fontSize: 20, fill: ink}),
    Plot.text(yTickLabels.slice(0, 1), {y: d => d, frameAnchor: "left", dx: -10, dy: -12, textAnchor: "end", text: d => d.toFixed(2), fontSize: 20, fill: ink}),
    Plot.text(xTickLabels, {x: d => d, fy: () => panels[2], frameAnchor: "bottom", dy: 32, text: d => d.toFixed(2), fontSize: 20.5, fill: ink}),
    Plot.text(["Semimajor axis a (AU)"], {fy: () => panels[2], frameAnchor: "bottom", dy: 62, text: d => d, fontSize: 21, fill: ink}),
    Plot.text(["Eccentricity e"], {fy: () => panels[1], frameAnchor: "left", dx: -79, rotate: -90, text: d => d, fontSize: 21, fill: ink})
  ]
});
document.body.append(chart);
</script>
</body>
</html>
